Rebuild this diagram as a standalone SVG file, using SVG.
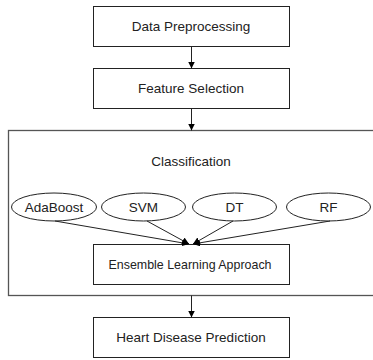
<svg xmlns="http://www.w3.org/2000/svg" width="373" height="360" viewBox="0 0 373 360">
<defs>
<marker id="ah" viewBox="0 0 10 10" refX="10" refY="5" markerWidth="7" markerHeight="7" orient="auto" markerUnits="userSpaceOnUse">
<path d="M0,0 L10,5 L0,10 z" fill="#000"/>
</marker>
</defs>
<style>
.box{fill:#fff;stroke:#222;stroke-width:1}
.outer{fill:none;stroke:#555;stroke-width:1.3}
.el{fill:#fff;stroke:#222;stroke-width:1}
.t{font-family:"Liberation Sans",Arial,sans-serif;font-size:13.5px;fill:#222;text-anchor:middle;dominant-baseline:central}
.c{stroke:#222;stroke-width:1;fill:none;marker-end:url(#ah)}
</style>
<g id="classification">
<rect class="outer" x="8.5" y="130.5" width="370" height="165"/>
<text class="t" x="191" y="161">Classification</text>
</g>
<g id="data-preprocessing">
<rect class="box" x="93.5" y="6.5" width="196" height="40"/>
<text class="t" x="191" y="26.5">Data Preprocessing</text>
</g>
<g id="feature-selection">
<rect class="box" x="93.5" y="68.5" width="196" height="40"/>
<text class="t" x="191" y="88.5">Feature Selection</text>
</g>
<g id="adaboost">
<ellipse class="el" cx="54" cy="207" rx="42.5" ry="14"/>
<text class="t" x="54" y="207">AdaBoost</text>
</g>
<g id="svm">
<ellipse class="el" cx="143.5" cy="207" rx="42" ry="14"/>
<text class="t" x="143.5" y="207">SVM</text>
</g>
<g id="dt">
<ellipse class="el" cx="234.5" cy="207" rx="42" ry="14"/>
<text class="t" x="234.5" y="207">DT</text>
</g>
<g id="rf">
<ellipse class="el" cx="328.5" cy="207" rx="42" ry="14"/>
<text class="t" x="328.5" y="207">RF</text>
</g>
<g id="ensemble">
<rect class="box" x="93.5" y="244.5" width="196" height="40"/>
<text class="t" x="190" y="264.5" textLength="163" lengthAdjust="spacingAndGlyphs">Ensemble Learning Approach</text>
</g>
<g id="heart-disease-prediction">
<rect class="box" x="93.5" y="317.5" width="196" height="40"/>
<text class="t" x="191" y="337.5">Heart Disease Prediction</text>
</g>
<g id="connectors">
<line class="c" x1="55" y1="221" x2="189" y2="244"/>
<line class="c" x1="147" y1="221" x2="189" y2="244"/>
<line class="c" x1="233" y1="221" x2="193" y2="244"/>
<line class="c" x1="330" y1="221" x2="193" y2="244"/>
<line class="c" x1="191.5" y1="46.5" x2="191.5" y2="68.5"/>
<line class="c" x1="191.5" y1="108.5" x2="191.5" y2="130.5"/>
<line class="c" x1="191.5" y1="295.5" x2="191.5" y2="317.5"/>
</g>
</svg>
